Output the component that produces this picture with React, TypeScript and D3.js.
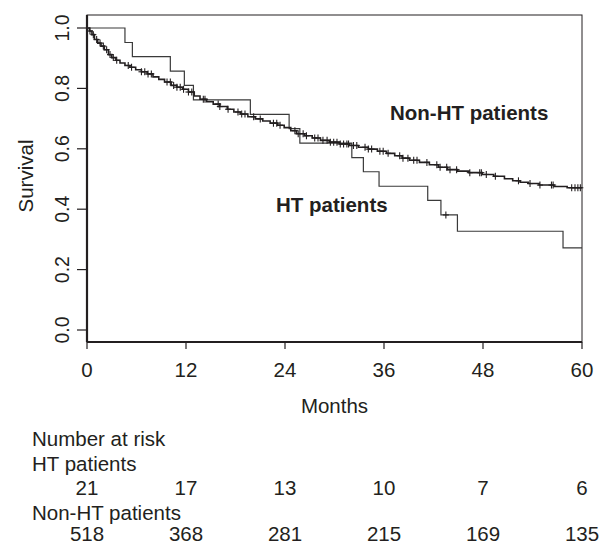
import React from "react";
import * as d3 from "d3";

const monthTicks = [0, 12, 24, 36, 48, 60];
const survTicks = [0, 0.2, 0.4, 0.6, 0.8, 1.0];

const htTimes = [0, 4.6, 5.5, 10.1, 11.8, 12.9, 19.8, 24.5, 25.8, 32.1, 33.5, 35.4, 41.3, 42.9, 44.9, 57.7];
const htSurv = [1, 0.952, 0.905, 0.857, 0.81, 0.762, 0.714, 0.667, 0.619, 0.571, 0.524, 0.476, 0.429, 0.381, 0.327, 0.272];
const htCensor = [43.5];

const nonTimes = [0, 0.3, 0.6, 0.9, 1.3, 1.7, 2.1, 2.6, 3.0, 3.5, 4.0, 4.6, 5.2, 5.9, 6.6, 7.3, 8.0, 8.7, 9.4, 10.2, 10.9, 11.6, 12.3, 13.0, 13.7, 14.5, 15.3, 16.1, 17.0, 17.8, 18.6, 19.5, 20.4, 21.3, 22.2, 23.1, 23.9, 24.7, 25.4, 26.4, 27.3, 28.3, 29.4, 30.6, 31.8, 32.9, 34.1, 35.2, 36.3, 37.3, 38.2, 39.1, 40.3, 41.5, 42.6, 43.7, 44.9, 46.3, 47.9, 49.3, 50.6, 51.6, 52.5, 53.5, 54.8, 56.6, 58.2];
const nonSurv = [1.0, 0.99, 0.978, 0.962, 0.95, 0.94, 0.928, 0.912, 0.902, 0.893, 0.884, 0.876, 0.87, 0.862, 0.855, 0.848, 0.838, 0.83, 0.821, 0.81, 0.804, 0.797, 0.788, 0.775, 0.764, 0.756, 0.748, 0.74, 0.731, 0.722, 0.715, 0.706, 0.699, 0.692, 0.685, 0.678, 0.67, 0.66, 0.65, 0.643, 0.636, 0.628, 0.622, 0.616, 0.611, 0.605, 0.599, 0.592, 0.585, 0.577, 0.569, 0.562, 0.555, 0.547, 0.539, 0.531, 0.526, 0.521, 0.515, 0.509, 0.501, 0.494, 0.489, 0.485, 0.48, 0.475, 0.471];
const nonCensor = [0.36, 0.77, 1.17, 1.58, 1.98, 2.38, 2.79, 3.19, 3.6, 5.0, 5.4, 6.6, 7.0, 7.4, 7.8, 9.7, 10.1, 10.5, 10.9, 11.3, 11.7, 12.3, 12.7, 14.1, 14.3, 15.9, 16.1, 17.1, 18.3, 18.75, 19.15, 20.2, 21.0, 22.6, 23.0, 23.4, 25.2, 25.6, 26.2, 26.6, 27.6, 28.0, 28.6, 29.1, 29.5, 29.9, 30.3, 30.7, 31.1, 31.5, 31.7, 32.3, 32.7, 33.7, 34.1, 34.5, 35.5, 35.9, 36.5, 37.9, 38.3, 38.9, 39.6, 40.0, 41.2, 42.4, 42.8, 43.6, 44.0, 44.8, 46.4, 47.6, 47.8, 48.4, 49.5, 52.3, 53.7, 54.9, 56.3, 56.5, 58.75, 59.15, 59.5, 59.8];

const groupNames = ["HT patients", "Non-HT patients"];
const riskHT = [21, 17, 13, 10, 7, 6];
const riskNon = [518, 368, 281, 215, 169, 135];

const W = 608;
const H = 547;
const L = 87, R = 582, T = 15, B = 342;
const FONT = "'Liberation Sans', Arial, Helvetica, sans-serif";
const INK = "#231f20";

const x = d3.scaleLinear().domain([0, 60]).range([87, 582]);
const y = d3.scaleLinear().domain([0, 1]).range([330, 28]);

function stepPath(times: number[], surv: number[], end: number) {
  const pts: [number, number][] = times.map((t, i) => [t, surv[i]]);
  pts.push([end, surv[surv.length - 1]]);
  const line = d3
    .line<[number, number]>()
    .x((d) => x(d[0]))
    .y((d) => y(d[1]))
    .curve(d3.curveStepAfter);
  return line(pts) || "";
}

function survAt(times: number[], surv: number[], t: number) {
  const i = d3.bisectRight(times, t) - 1;
  return surv[Math.max(0, i)];
}

function Cross({ cx, cy }: { cx: number; cy: number }) {
  return (
    <g stroke={INK} strokeWidth={1.1}>
      <line x1={cx} x2={cx} y1={cy - 3.5} y2={cy + 3.5} />
      <line x1={cx - 3} x2={cx + 3} y1={cy} y2={cy} />
    </g>
  );
}

export default function App() {
  return (
    <svg
      width={W}
      height={H}
      style={{ position: "absolute", left: 0, top: 0, background: "#fff" }}
      fontFamily={FONT}
    >
      <rect x={0} y={0} width={W} height={H} fill="#fff" />
      {/* box */}
      <rect x={L} y={T} width={R - L} height={B - T} fill="none" stroke={INK} strokeWidth={1} />
      <line x1={L} x2={L} y1={T} y2={B} stroke={INK} strokeWidth={2.2} />
      <line x1={L} x2={R} y1={B} y2={B} stroke={INK} strokeWidth={2.2} />

      {/* y ticks */}
      {survTicks.map((v) => (
        <g key={"y" + v}>
          <line x1={L - 10} x2={L} y1={y(v)} y2={y(v)} stroke={INK} strokeWidth={1.2} />
          <text
            transform={`translate(69,${y(v)}) rotate(-90)`}
            textAnchor="middle"
            fontSize={19.5}
            fill={INK}
          >
            {v.toFixed(1)}
          </text>
        </g>
      ))}
      <text transform={`translate(33,176) rotate(-90)`} textAnchor="middle" fontSize={20.5} fill={INK}>
        Survival
      </text>

      {/* x ticks */}
      {monthTicks.map((m) => (
        <g key={"x" + m}>
          <line x1={x(m)} x2={x(m)} y1={B} y2={B + 7} stroke={INK} strokeWidth={1.2} />
          <text x={x(m)} y={377} textAnchor="middle" fontSize={20.5} fill={INK}>
            {m}
          </text>
        </g>
      ))}
      <text x={(L + R) / 2} y={413} textAnchor="middle" fontSize={20.5} fill={INK}>
        Months
      </text>

      {/* curves */}
      <path d={stepPath(htTimes, htSurv, 60)} fill="none" stroke="#3a3a3a" strokeWidth={1.2} />
      {htCensor.map((t, i) => (
        <Cross key={"hc" + i} cx={x(t)} cy={y(survAt(htTimes, htSurv, t))} />
      ))}
      <path d={stepPath(nonTimes, nonSurv, 60)} fill="none" stroke={INK} strokeWidth={1.6} />
      {nonCensor.map((t, i) => (
        <Cross key={"nc" + i} cx={x(t)} cy={y(survAt(nonTimes, nonSurv, t))} />
      ))}

      {/* labels */}
      <text x={390} y={120} fontSize={20.5} fontWeight="bold" fill={INK}>
        {groupNames[1]}
      </text>
      <text x={276} y={212} fontSize={20.5} fontWeight="bold" fill={INK}>
        {groupNames[0]}
      </text>

      {/* risk table */}
      <text x={32} y={446} fontSize={20.5} fill={INK}>Number at risk</text>
      <text x={32} y={471} fontSize={20.5} fill={INK}>{groupNames[0]}</text>
      {riskHT.map((n, i) => (
        <text key={"rh" + i} x={x(monthTicks[i])} y={495} textAnchor="middle" fontSize={20.5} fill={INK}>
          {n}
        </text>
      ))}
      <text x={32} y={520} fontSize={20.5} fill={INK}>{groupNames[1]}</text>
      {riskNon.map((n, i) => (
        <text key={"rn" + i} x={x(monthTicks[i])} y={541} textAnchor="middle" fontSize={20.5} fill={INK}>
          {n}
        </text>
      ))}
    </svg>
  );
}
